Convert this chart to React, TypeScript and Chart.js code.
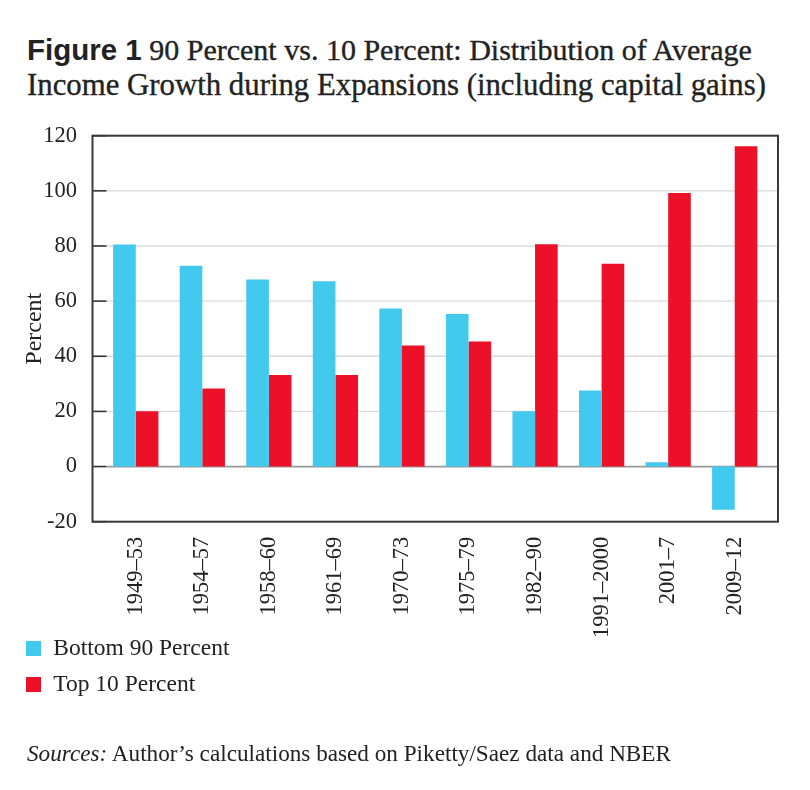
import React, { useEffect, useRef } from "react";
import { Chart, registerables } from "chart.js";

Chart.register(...registerables);

const categories = ["1949–53", "1954–57", "1958–60", "1961–69", "1970–73", "1975–79", "1982–90", "1991–2000", "2001–7", "2009–12"];
const bottom90 = [80.5, 72.8, 67.8, 67.2, 57.3, 55.3, 20.1, 27.6, 1.6, -15.7];
const top10 = [20.1, 28.3, 33.2, 33.2, 43.9, 45.4, 80.6, 73.6, 99.2, 116.2];
const yMin = -20;
const yMax = 120;
const yStep = 20;

const seriesNames = ["Bottom 90 Percent", "Top 10 Percent"];
const seriesColors = ["#41C9EE", "#EC1129"];

const SERIF = '"Liberation Serif", "Times New Roman", serif';
const SANS = '"Liberation Sans", Arial, sans-serif';

const framePlugin = {
  id: "frame",
  beforeDatasetsDraw(chart: any) {
    const { ctx, chartArea, scales } = chart;
    const y = scales.y;
    const left = chartArea.left - 10;
    const right = chartArea.right + 10;
    ctx.save();
    y.ticks.forEach((t: any) => {
      const py = y.getPixelForValue(t.value);
      ctx.strokeStyle = t.value === 0 ? "#999999" : "#dadada";
      ctx.lineWidth = t.value === 0 ? 1.8 : 1.3;
      ctx.beginPath();
      ctx.moveTo(left + 14, py);
      ctx.lineTo(right, py);
      ctx.stroke();
      ctx.strokeStyle = "#333333";
      ctx.lineWidth = 1.6;
      ctx.beginPath();
      ctx.moveTo(left, py);
      ctx.lineTo(left + 14, py);
      ctx.stroke();
    });
    ctx.restore();
  },
  afterDatasetsDraw(chart: any) {
    const { ctx, chartArea } = chart;
    ctx.save();
    ctx.strokeStyle = "#3a3a3a";
    ctx.lineWidth = 2;
    ctx.strokeRect(chartArea.left - 10, chartArea.top, chartArea.right - chartArea.left + 20, chartArea.bottom - chartArea.top);
    ctx.restore();
  },
};

export default function App() {
  const ref = useRef<HTMLCanvasElement | null>(null);

  useEffect(() => {
    if (!ref.current) return;
    const chart = new Chart(ref.current, {
      type: "bar",
      data: {
        labels: categories,
        datasets: [
          { label: seriesNames[0], data: bottom90, backgroundColor: seriesColors[0], borderWidth: 0 },
          { label: seriesNames[1], data: top10, backgroundColor: seriesColors[1], borderWidth: 0 },
        ],
      },
      options: {
        animation: false,
        responsive: false,
        layout: { padding: { top: 135.7, right: 42, left: 0, bottom: 0 } },
        datasets: { bar: { categoryPercentage: 0.68, barPercentage: 1.0 } },
        plugins: { legend: { display: false }, tooltip: { enabled: false }, title: { display: false } },
        scales: {
          x: {
            grid: { display: false },
            border: { display: false },
            ticks: {
              autoSkip: false,
              minRotation: 90,
              maxRotation: 90,
              padding: 7,
              color: "#222",
              font: { family: SERIF, size: 22.5 },
            },
            afterFit: (scale: any) => {
              scale.height = 268.3;
            },
          },
          y: {
            min: yMin,
            max: yMax,
            grid: { display: false },
            border: { display: false },
            ticks: {
              stepSize: yStep,
              padding: 17.5,
              color: "#222",
              font: { family: SERIF, size: 22.5 },
            },
            title: {
              display: true,
              text: "Percent",
              color: "#222",
              font: { family: SERIF, size: 24 },
              padding: { top: 20, bottom: 0 },
            },
            afterFit: (scale: any) => {
              scale.width = 102.5;
            },
          },
        },
      },
      plugins: [framePlugin],
    });
    return () => chart.destroy();
  }, []);

  const textColor = "#222";
  const stroke = { WebkitTextStroke: "0.35px #222" } as any;
  return (
    <div style={{ position: "absolute", left: 0, top: 0, width: 810, height: 790, background: "#fff", overflow: "hidden" }}>
      <div style={{ position: "absolute", left: 27, top: 35, whiteSpace: "nowrap", color: textColor, lineHeight: 1 }}>
        <span style={{ fontFamily: SANS, fontWeight: 700, fontSize: 29.5 }}>Figure 1</span>
        <span style={{ fontFamily: SERIF, fontSize: 30, ...stroke }}> 90 Percent vs. 10 Percent: Distribution of Average</span>
      </div>
      <div style={{ position: "absolute", left: 27, top: 70, whiteSpace: "nowrap", color: textColor, lineHeight: 1, fontFamily: SERIF, fontSize: 30.8, ...stroke }}>
        Income Growth during Expansions (including capital gains)
      </div>
      <canvas ref={ref} width={810} height={790} style={{ position: "absolute", left: 0, top: 0, width: 810, height: 790 }} />
      {seriesNames.map((name, i) => (
        <div key={name} style={{ position: "absolute", left: 25.7, top: 636 + i * 36, height: 24, display: "flex", alignItems: "center", whiteSpace: "nowrap" }}>
          <span style={{ display: "inline-block", width: 15, height: 15, background: seriesColors[i], marginRight: 12.6 }} />
          <span style={{ fontFamily: SERIF, fontSize: 23.5, color: textColor, lineHeight: 1 }}>{name}</span>
        </div>
      ))}
      <div style={{ position: "absolute", left: 27, top: 742, whiteSpace: "nowrap", color: textColor, lineHeight: 1, fontFamily: SERIF, fontSize: 23.2 }}>
        <i>Sources:</i> Author’s calculations based on Piketty/Saez data and NBER
      </div>
    </div>
  );
}
